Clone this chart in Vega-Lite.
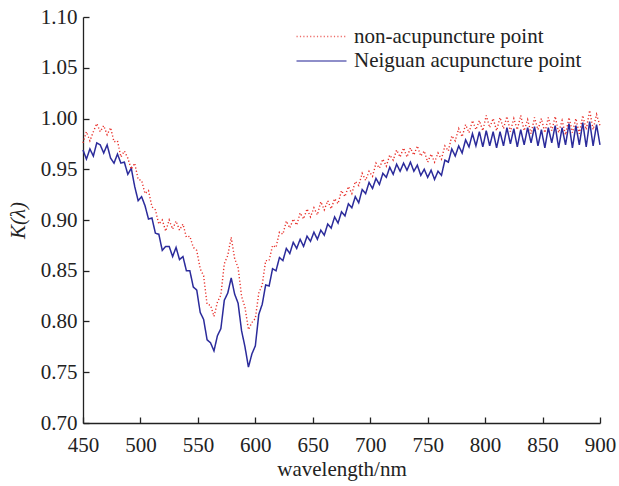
{
  "$schema": "https://vega.github.io/schema/vega-lite/v6.json",
  "autosize": "none",
  "width": 517,
  "height": 406,
  "padding": {"left": 83, "top": 17, "right": 19, "bottom": 63},
  "background": "white",
  "config": {
    "view": {"stroke": null},
    "font": "Liberation Serif",
    "axis": {
      "grid": false,
      "domainColor": "#222",
      "domainWidth": 1.3,
      "tickColor": "#222",
      "tickWidth": 1.3,
      "tickSize": -6,
      "labelFont": "Liberation Serif",
      "labelFontSize": 21,
      "labelColor": "#222",
      "titleFont": "Liberation Serif",
      "titleFontSize": 21,
      "titleFontWeight": "normal",
      "titleColor": "#222"
    },
    "legend": {
      "orient": "none",
      "legendX": 228,
      "legendY": 9,
      "title": null,
      "labelFont": "Liberation Serif",
      "labelFontSize": 21,
      "labelColor": "#222",
      "labelLimit": 0,
      "symbolType": "M-5,0H5",
      "symbolSize": 100,
      "symbolStrokeWidth": 1.5,
      "symbolOpacity": 0.7,
      "rowPadding": 2.5,
      "labelOffset": 22
    }
  },
  "data": {"values": [
    {"w":450,"a":0.976,"b":0.969},{"w":453,"a":0.987,"b":0.960},{"w":456,"a":0.978,"b":0.970},{"w":459,"a":0.987,"b":0.963},
    {"w":462,"a":0.995,"b":0.976},{"w":465,"a":0.987,"b":0.974},{"w":468,"a":0.993,"b":0.966},{"w":471,"a":0.984,"b":0.974},
    {"w":474,"a":0.991,"b":0.961},{"w":477,"a":0.977,"b":0.956},{"w":480,"a":0.978,"b":0.965},{"w":483,"a":0.962,"b":0.956},
    {"w":486,"a":0.968,"b":0.957},{"w":489,"a":0.961,"b":0.945},{"w":492,"a":0.950,"b":0.951},{"w":495,"a":0.956,"b":0.933},
    {"w":498,"a":0.940,"b":0.919},{"w":501,"a":0.939,"b":0.923},{"w":504,"a":0.926,"b":0.914},{"w":507,"a":0.929,"b":0.901},
    {"w":510,"a":0.913,"b":0.902},{"w":513,"a":0.910,"b":0.887},{"w":516,"a":0.896,"b":0.886},{"w":519,"a":0.900,"b":0.870},
    {"w":522,"a":0.889,"b":0.874},{"w":525,"a":0.900,"b":0.874},{"w":528,"a":0.891,"b":0.864},{"w":531,"a":0.899,"b":0.873},
    {"w":534,"a":0.890,"b":0.861},{"w":537,"a":0.896,"b":0.864},{"w":540,"a":0.883,"b":0.850},{"w":543,"a":0.884,"b":0.850},
    {"w":546,"a":0.873,"b":0.834},{"w":549,"a":0.870,"b":0.831},{"w":552,"a":0.852,"b":0.809},{"w":555,"a":0.845,"b":0.802},
    {"w":558,"a":0.817,"b":0.782},{"w":561,"a":0.816,"b":0.779},{"w":564,"a":0.805,"b":0.771},{"w":567,"a":0.819,"b":0.786},
    {"w":570,"a":0.826,"b":0.793},{"w":573,"a":0.857,"b":0.821},{"w":576,"a":0.865,"b":0.828},{"w":579,"a":0.883,"b":0.843},
    {"w":582,"a":0.862,"b":0.827},{"w":585,"a":0.853,"b":0.818},{"w":588,"a":0.825,"b":0.791},{"w":591,"a":0.814,"b":0.775},
    {"w":594,"a":0.792,"b":0.755},{"w":597,"a":0.799,"b":0.768},{"w":600,"a":0.803,"b":0.776},{"w":603,"a":0.828,"b":0.807},
    {"w":606,"a":0.836,"b":0.817},{"w":609,"a":0.860,"b":0.836},{"w":612,"a":0.860,"b":0.835},{"w":615,"a":0.875,"b":0.852},
    {"w":618,"a":0.873,"b":0.850},{"w":621,"a":0.888,"b":0.863},{"w":624,"a":0.886,"b":0.860},{"w":627,"a":0.899,"b":0.872},
    {"w":630,"a":0.892,"b":0.867},{"w":633,"a":0.901,"b":0.878},{"w":636,"a":0.895,"b":0.872},{"w":639,"a":0.907,"b":0.881},
    {"w":642,"a":0.901,"b":0.874},{"w":645,"a":0.911,"b":0.884},{"w":648,"a":0.903,"b":0.879},{"w":651,"a":0.912,"b":0.888},
    {"w":654,"a":0.905,"b":0.881},{"w":657,"a":0.918,"b":0.890},{"w":660,"a":0.910,"b":0.885},{"w":663,"a":0.919,"b":0.896},
    {"w":666,"a":0.911,"b":0.892},{"w":669,"a":0.921,"b":0.903},{"w":672,"a":0.916,"b":0.897},{"w":675,"a":0.929,"b":0.908},
    {"w":678,"a":0.923,"b":0.904},{"w":681,"a":0.933,"b":0.916},{"w":684,"a":0.926,"b":0.912},{"w":687,"a":0.938,"b":0.923},
    {"w":690,"a":0.934,"b":0.917},{"w":693,"a":0.946,"b":0.930},{"w":696,"a":0.939,"b":0.926},{"w":699,"a":0.948,"b":0.937},
    {"w":702,"a":0.943,"b":0.931},{"w":705,"a":0.956,"b":0.941},{"w":708,"a":0.951,"b":0.935},{"w":711,"a":0.960,"b":0.946},
    {"w":714,"a":0.953,"b":0.942},{"w":717,"a":0.964,"b":0.952},{"w":720,"a":0.959,"b":0.945},{"w":723,"a":0.969,"b":0.955},
    {"w":726,"a":0.962,"b":0.948},{"w":729,"a":0.971,"b":0.956},{"w":732,"a":0.962,"b":0.949},{"w":735,"a":0.971,"b":0.957},
    {"w":738,"a":0.964,"b":0.948},{"w":741,"a":0.973,"b":0.954},{"w":744,"a":0.963,"b":0.944},{"w":747,"a":0.968,"b":0.950},
    {"w":750,"a":0.957,"b":0.942},{"w":753,"a":0.965,"b":0.949},{"w":756,"a":0.957,"b":0.940},{"w":759,"a":0.966,"b":0.948},
    {"w":762,"a":0.960,"b":0.944},{"w":765,"a":0.973,"b":0.959},{"w":768,"a":0.968,"b":0.957},{"w":771,"a":0.983,"b":0.970},
    {"w":774,"a":0.978,"b":0.963},{"w":777,"a":0.990,"b":0.973},{"w":780,"a":0.982,"b":0.966},{"w":783,"a":0.994,"b":0.979},
    {"w":786,"a":0.986,"b":0.972},{"w":789,"a":0.998,"b":0.985},{"w":792,"a":0.989,"b":0.973},{"w":795,"a":0.998,"b":0.987},
    {"w":798,"a":0.988,"b":0.972},{"w":801,"a":1.003,"b":0.988},{"w":804,"a":0.991,"b":0.973},{"w":807,"a":1.000,"b":0.987},
    {"w":810,"a":0.988,"b":0.971},{"w":813,"a":1.001,"b":0.987},{"w":816,"a":0.990,"b":0.973},{"w":819,"a":1.002,"b":0.991},
    {"w":822,"a":0.987,"b":0.975},{"w":825,"a":1.000,"b":0.990},{"w":828,"a":0.989,"b":0.972},{"w":831,"a":1.003,"b":0.989},
    {"w":834,"a":0.988,"b":0.974},{"w":837,"a":0.999,"b":0.991},{"w":840,"a":0.985,"b":0.976},{"w":843,"a":1.001,"b":0.992},
    {"w":846,"a":0.989,"b":0.973},{"w":849,"a":1.000,"b":0.989},{"w":852,"a":0.986,"b":0.971},{"w":855,"a":1.001,"b":0.991},
    {"w":858,"a":0.988,"b":0.976},{"w":861,"a":1.002,"b":0.993},{"w":864,"a":0.986,"b":0.971},{"w":867,"a":0.998,"b":0.991},
    {"w":870,"a":0.984,"b":0.974},{"w":873,"a":1.001,"b":0.995},{"w":876,"a":0.986,"b":0.971},{"w":879,"a":1.000,"b":0.993},
    {"w":882,"a":0.985,"b":0.974},{"w":885,"a":1.003,"b":0.996},{"w":888,"a":0.989,"b":0.972},{"w":891,"a":1.008,"b":0.997},
    {"w":894,"a":0.989,"b":0.973},{"w":897,"a":1.004,"b":0.994},{"w":900,"a":0.993,"b":0.974}
  ]},
  "encoding": {
    "x": {
      "field": "w", "type": "quantitative",
      "scale": {"domain": [450, 900], "nice": false, "zero": false},
      "axis": {"title": "wavelength/nm", "values": [450,500,550,600,650,700,750,800,850,900], "labelPadding": 17, "titlePadding": 3, "labelFlush": false}
    }
  },
  "layer": [
    {
      "mark": {"type": "line", "strokeWidth": 1.5, "interpolate": "linear"},
      "encoding": {
        "y": {
          "field": "b", "type": "quantitative",
          "scale": {"domain": [0.7, 1.1], "nice": false, "zero": false},
          "axis": {"title": "K(λ)", "titleFontStyle": "italic", "format": ".2f", "values": [0.7,0.75,0.8,0.85,0.9,0.95,1.0,1.05,1.1], "labelPadding": 12, "titlePadding": 12}
        },
        "color": {
          "datum": "Neiguan acupuncture point",
          "scale": {"domain": ["non-acupuncture point", "Neiguan acupuncture point"], "range": ["#e8302a", "#2b2b9b"]}
        },
        "strokeDash": {
          "datum": "Neiguan acupuncture point",
          "scale": {"domain": ["non-acupuncture point", "Neiguan acupuncture point"], "range": [[1.2, 2.2], [1, 0]]}
        }
      }
    },
    {
      "mark": {"type": "line", "strokeWidth": 1.4, "interpolate": "linear"},
      "encoding": {
        "y": {"field": "a", "type": "quantitative"},
        "color": {"datum": "non-acupuncture point"},
        "strokeDash": {"datum": "non-acupuncture point"}
      }
    }
  ],
  "resolve": {"scale": {"y": "shared"}}
}
